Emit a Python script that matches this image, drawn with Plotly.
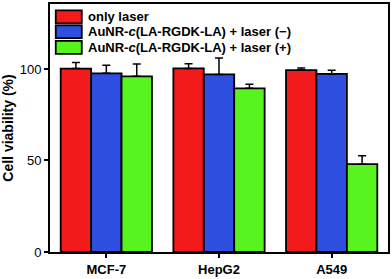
import plotly.graph_objects as go

categories = ["MCF-7", "HepG2", "A549"]
series_names = ["only laser", "AuNR-<i>c</i>(LA-RGDK-LA) + laser (−)", "AuNR-<i>c</i>(LA-RGDK-LA) + laser (+)"]
only_laser = [100.2, 100.3, 99.4]
only_laser_err = [3.4, 2.5, 1.2]
aunr_minus = [97.6, 97.0, 97.3]
aunr_minus_err = [4.4, 9.0, 2.0]
aunr_plus = [96.0, 89.4, 48.0]
aunr_plus_err = [6.7, 2.2, 4.6]
colors = ["#f31a1c", "#2f4fe0", "#58f41f"]

values = [only_laser, aunr_minus, aunr_plus]
errors = [only_laser_err, aunr_minus_err, aunr_plus_err]

FONT = "Liberation Sans, Arial"

fig = go.Figure()
for name, v, e, c in zip(series_names, values, errors, colors):
    fig.add_trace(go.Bar(
        x=categories, y=v, name=name, marker=dict(color=c, line=dict(color="black", width=1.8)),
        error_y=dict(type="data", array=e, arrayminus=[0] * len(e), symmetric=False,
                     color="black", thickness=1.5, width=4),
        showlegend=False,
    ))

# custom legend (swatches + labels)
ys = [0.948, 0.888, 0.825]
for name, c, yy in zip(series_names, colors, ys):
    fig.add_shape(type="rect", xref="paper", yref="paper",
                  x0=0.017, x1=0.094, y0=yy - 0.026, y1=yy + 0.026,
                  fillcolor=c, line=dict(color="black", width=1.8))
    fig.add_annotation(xref="paper", yref="paper", x=0.106, y=yy, text="<b>" + name + "</b>",
                       showarrow=False, xanchor="left", yanchor="middle",
                       font=dict(size=13, color="black", family=FONT))

fig.update_layout(
    width=392, height=279,
    margin=dict(l=50, r=3, t=2, b=25),
    barmode="group", bargap=0.19, bargroupgap=0,
    plot_bgcolor="white", paper_bgcolor="white",
    font=dict(family=FONT, color="black", size=13),
)
fig.update_xaxes(showline=True, linecolor="black", linewidth=2, mirror=True,
                 ticks="outside", ticklen=4, tickwidth=1.5, tickcolor="black",
                 tickfont=dict(size=13, family=FONT),
                 tickprefix="<b>", ticksuffix="</b>", range=[-0.5, 2.5])
fig.update_yaxes(showline=True, linecolor="black", linewidth=2, mirror=True,
                 range=[0, 135.5], tickvals=[0, 50, 100], ticks="outside", ticklen=4,
                 tickwidth=1.5, tickcolor="black", showgrid=False, zeroline=False,
                 tickprefix="<b>", ticksuffix="</b>", tickfont=dict(size=13),
                 title=dict(text="<b>Cell viability (%)</b>", font=dict(size=14), standoff=4))

fig.write_html("out.html", config={"displayModeBar": False},
               post_script="document.body.style.margin='0';")
